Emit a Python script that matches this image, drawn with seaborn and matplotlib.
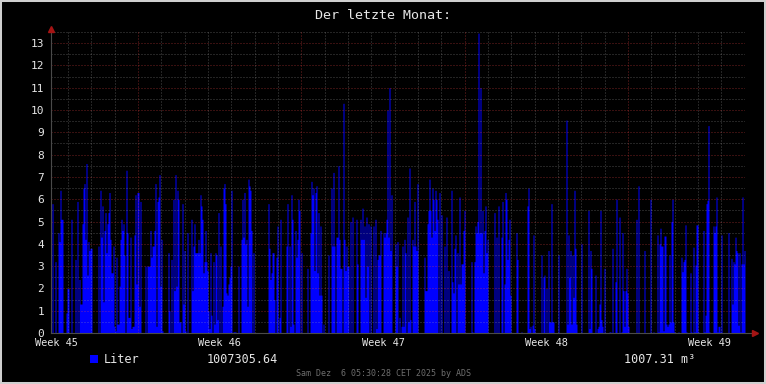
import numpy as np
import pandas as pd
import matplotlib
matplotlib.use("Agg")
import matplotlib.pyplot as plt
import matplotlib.transforms as mtransforms
from matplotlib.patches import Rectangle
import seaborn as sns

# ---------------- data ----------------
title = "Der letzte Monat:"
week_labels = ["Week 45", "Week 46", "Week 47", "Week 48", "Week 49"]
legend_label = "Liter"
total_liter = "1007305.64"
total_m3 = "1007.31 m\u00b3"
footer = "Sam Dez  6 05:30:28 CET 2025 by ADS"
y_tick_values = list(range(0, 14))

liters_part1 = [
    0, 5.8, 0, 0, 3.2, 0, 0, 4.5, 4.1, 6.4,
    5.1, 5.1, 0, 0, 0, 0.9, 2.0, 2.0, 0, 0,
    5.1, 0, 0, 0, 3.3, 0, 5.9, 0, 2.4, 1.3,
    1.3, 4.9, 6.5, 6.7, 4.2, 7.6, 2.6, 4.1, 3.7, 3.8,
    3.8, 0, 0, 0, 0, 0, 0, 3.9, 0, 6.4,
    4.3, 5.7, 1.4, 4.6, 5.4, 3.6, 4.9, 5.4, 6.3, 4.2,
    2.7, 2.7, 3.9, 0.3, 0.1, 3.4, 0.4, 0.4, 2.1, 4.2,
    5.1, 4.6, 4.9, 3.5, 0, 7.3, 4.5, 0.7, 0.7, 4.3,
    0.2, 0.3, 0.3, 4.4, 6.2, 2.2, 6.3, 6.3, 1.2, 5.9,
    0, 0, 0, 0, 3.0, 0, 3.0,
]
liters_part2 = [
    3.0, 3.0, 4.6, 3.4, 3.9, 3.9, 4.6, 6.7, 0.3, 5.9,
    6.1, 7.1, 2.1, 4.2, 0.1, 0, 0, 0, 0, 0,
    3.6, 1.0, 0, 3.3, 0, 6.0, 1.9, 7.1, 2.1, 6.4,
    6.0, 0.5, 0.5, 0, 5.8, 1.3, 3.7, 0.1, 0, 4.5,
    0, 0, 0, 5.1, 1.9, 3.9, 4.9, 3.6, 3.6, 3.6,
    4.2, 3.6, 6.2, 5.7, 5.1, 2.7, 3.2, 4.6, 3.2, 2.8,
    1.0, 0.2, 3.6, 0.8, 0, 3.2, 0.4, 3.6, 3.5, 0.6,
    5.4, 0, 3.9, 0, 1.2, 6.5, 6.7, 5.8, 1.8, 1.7,
    2.2, 2.5, 3.0, 6.4, 0, 0.05, 0.05, 0.05, 0, 0,
    3.0, 0, 0, 4.2, 6.0, 4.3, 6.3, 4.0, 4.2, 1.2,
]
liters_part3 = [
    6.9, 6.6, 6.4, 4.6, 0, 3.6, 0, 0, 0, 0,
    0, 0, 0, 0, 0, 0, 0, 0, 0, 0,
    5.8, 3.8, 2.4, 2.7, 3.6, 3.6, 1.5, 0, 3.4, 4.8,
    0, 0.7, 5.1, 0, 0, 0, 0, 0, 3.9, 5.8,
    0, 3.9, 0.3, 6.2, 5.1, 0.4, 0, 4.6, 3.4, 4.2,
    6.0, 5.5, 0, 3.6, 0, 0, 0, 0, 0, 2.9,
    0, 0, 4.5, 6.8, 6.2, 6.5, 2.8, 6.3, 6.6, 2.7,
    5.4, 1.7, 4.8, 1.7, 0, 0.4, 0, 0, 0, 0,
    3.5, 0, 0, 6.5, 3.9, 7.2, 3.9, 0, 4.3, 4.3,
    7.5, 4.2, 2.9, 2.9, 0, 10.3, 4.2, 2.8, 3.9, 3.0,
]
liters_part4 = [
    3.0, 0, 5.0, 0, 5.2, 0, 0, 0, 5.1, 3.1,
    0, 0, 5.1, 4.2, 5.6, 4.2, 4.8, 1.6, 5.2, 3.0,
    4.9, 0, 4.8, 0, 0, 4.8, 0, 5.1, 0.2, 3.3,
    3.5, 3.5, 4.6, 0, 0, 4.5, 4.3, 4.5, 5.1, 10.0,
    4.3, 11.0, 3.7, 6.2, 0, 0, 0, 4.0, 3.0, 4.1,
    0, 0.7, 0, 0.3, 3.9, 0.3, 4.2, 3.6, 0, 5.2,
    0.5, 7.4, 0.6, 0, 4.2, 3.9, 5.9, 3.9, 3.7, 6.7,
    0, 0, 0, 0, 0, 0, 3.4, 1.9, 1.9, 4.9,
    5.5, 6.9, 5.5, 4.3, 6.5, 6.0, 4.6, 6.4, 6.0, 5.1,
    0, 6.3, 0, 5.3, 0, 0, 3.9, 0, 5.2, 0,
]
liters_part5 = [
    2.8, 0, 0, 6.4, 2.3, 1.8, 3.8, 4.4, 0, 3.6,
    2.2, 6.1, 2.2, 3.1, 3.1, 4.6, 5.5, 0, 0, 0,
    0, 0, 0, 3.2, 0.05, 0, 3.2, 4.8, 4.5, 5.0,
    13.45, 4.5, 11.0, 4.5, 5.5, 2.7, 4.6, 5.7, 3.6, 4.2,
    0, 0, 0, 0, 0, 0, 5.4, 0, 4.3, 0,
    5.7, 0, 0, 4.3, 5.9, 0, 2.2, 6.3, 6.0, 3.3,
    4.2, 5.1, 1.7, 0, 0, 0, 0, 0, 4.5, 3.3,
    0, 0, 0, 0.05, 0, 0, 0, 0, 0, 5.7,
    6.5, 0.2, 0.3, 0, 0.35, 4.4, 0.2, 0, 0, 0,
    0, 0, 0, 3.5, 0, 2.5, 2.6, 0, 2.0, 0,
]
liters_part6 = [
    3.7, 0.5, 0.5, 5.8, 0.5, 0.5, 0, 0, 0, 0,
    3.5, 0, 0, 0, 0, 0, 0, 0, 9.55, 0.4,
    4.4, 2.5, 3.7, 0.4, 3.5, 1.6, 6.4, 3.8, 0.4, 0,
    0, 0, 0, 4.0, 0, 0, 0, 0, 0, 0,
    5.5, 0.2, 3.7, 2.9, 0, 0, 0, 2.6, 0, 0.2,
    0.3, 1.3, 5.5, 0.6, 0.3, 0, 2.9, 0, 0, 0,
    0, 0.05, 0.05, 0, 3.8, 0, 0, 2.3, 6.0, 0,
    0, 5.2, 0, 0.05, 4.5, 1.9, 0.3, 1.9, 2.9, 1.8,
    0.3, 0, 0, 0, 0, 0, 0, 0, 5.1, 0,
    6.6, 0, 0, 0, 0, 0, 3.7, 0, 0, 0,
]
liters_part7 = [
    0, 0, 6.0, 0, 0, 0.05, 0, 0, 0, 4.4,
    0.05, 4.0, 4.7, 3.9, 3.9, 0.1, 4.35, 4.35, 0.4, 0.3,
    0.4, 3.5, 0.5, 5.0, 6.0, 0.5, 0.05, 0, 0, 0,
    0.05, 0, 0, 3.4, 2.75, 3.2, 3.3, 4.85, 0.05, 0,
    0, 0, 2.7, 0.05, 0, 3.85, 0.05, 3.05, 4.85, 4.85,
    0.05, 0, 0, 0, 0, 4.6, 0.05, 0.8, 5.8, 5.95,
    9.3, 0.05, 0, 0, 0, 4.8, 4.5, 4.8, 6.1, 0.05,
    0.3, 0.3, 0.05, 4.4, 0, 0, 0, 0, 0, 0,
    4.5, 0, 0, 3.35, 1.3, 3.2, 3.1, 4.3, 3.7, 3.6,
    0.35, 3.6, 0.05, 3.1, 6.1, 3.1, 3.7,
]

liters = np.array(liters_part1 + liters_part2 + liters_part3 + liters_part4
                  + liters_part5 + liters_part6 + liters_part7, dtype=float)

# time axis (days since left edge of graph)
SPAN_DAYS = 29.75
n = len(liters)
dt = SPAN_DAYS / n
times = (np.arange(n) + 0.5) * dt
df = pd.DataFrame({"day": times, "liter": liters})

FIRST_DAY_LINE = 0.73
FIRST_WEEK_LINE = 3.73
FIRST_WEEK_LABEL = 0.23

# ---------------- style ----------------
sns.set_style("dark", {"axes.facecolor": "black", "figure.facecolor": "black"})
plt.rcParams["font.family"] = ["DejaVu Sans Mono", "DejaVu Sans"]

W, H = 766, 384
BG = "#000000"
TXT = "#e6e6e6"
MAJ = (1.0, 0.28, 0.28, 0.45)
MIN = (0.68, 0.68, 0.68, 0.42)
MAJ_TICK = "#7a2c2c"
MIN_TICK = "#4e4e4e"
AXC = "#4a4a4a"
ARROW = "#a51414"
BLUE = "#0000ff"
dots = (0, (1, 2))

fig = plt.figure(figsize=(W / 100, H / 100), dpi=100, facecolor=BG)
fig.patches.append(Rectangle((0, 0), 1, 1, transform=fig.transFigure, fill=False,
                             edgecolor="#cfcfcf", linewidth=2.9, zorder=10))

ax = fig.add_axes([51 / W, (H - 333) / H, 694 / W, 303 / H], facecolor=BG)

sns.histplot(data=df, x="day", weights="liter", binwidth=dt, binrange=(0, SPAN_DAYS),
             element="step", fill=True, color=BLUE, alpha=1.0, linewidth=0, ax=ax)
ax.set_xlabel("")
ax.set_ylabel("")
ax.set_xlim(0, SPAN_DAYS)
ax.set_ylim(0, 303 / 22.3)

# y grid
ax.set_yticks(y_tick_values)
ax.set_yticklabels([str(v) for v in y_tick_values])
ax.set_yticks(np.arange(0.5, 13.6, 1.0), minor=True)
ax.grid(False)
ax.set_axisbelow(False)
for v in y_tick_values[1:]:
    ax.axhline(v, color=MAJ, lw=0.72, ls=dots, zorder=3)
for v in np.arange(0.5, 13.6, 1.0):
    ax.axhline(v, color=MIN, lw=0.72, ls=dots, zorder=3)

# x grid: day lines + week lines
day_lines = FIRST_DAY_LINE + np.arange(0, 29)
day_lines = day_lines[day_lines < SPAN_DAYS]
week_lines = FIRST_WEEK_LINE + 7 * np.arange(0, 4)
for d in day_lines:
    if np.min(np.abs(week_lines - d)) < 1e-6:
        continue
    ax.axvline(d, color=MIN, lw=0.72, ls=dots, zorder=3)
for d in week_lines:
    ax.axvline(d, color=MAJ, lw=0.72, ls=dots, zorder=3)

ax.set_xticks([])
ax.set_xticks(day_lines, minor=True)
ax.tick_params(axis="x", which="minor", length=1.5, width=0.72, color=MIN_TICK, labelbottom=False)
for tk, d in zip(ax.xaxis.get_minor_ticks(), day_lines):
    if np.min(np.abs(week_lines - d)) < 1e-6:
        tk.tick1line.set_color(MAJ_TICK)
ax.tick_params(axis="y", which="major", length=1.8, width=0.72, color=MAJ_TICK,
               labelsize=8, labelcolor=TXT, pad=3)
ax.tick_params(axis="y", which="minor", length=1.8, width=0.72, color=MIN_TICK)

for side in ["top", "right"]:
    ax.spines[side].set_visible(False)
for side in ["left", "bottom"]:
    ax.spines[side].set_color(AXC)
    ax.spines[side].set_linewidth(0.8)
    ax.spines[side].set_zorder(4)

# week labels
blend = mtransforms.blended_transform_factory(ax.transData, fig.transFigure)
for k, lab in enumerate(week_labels):
    ax.text(FIRST_WEEK_LABEL + 7 * k, 1 - 345.5 / H, lab, transform=blend,
            ha="center", va="baseline", fontsize=7.4, color=TXT, clip_on=False)

# axis extension + arrows
ax.plot([1, 1.012], [0, 0], transform=ax.transAxes, color=AXC, lw=0.8, clip_on=False, zorder=4)
ax.plot([1.0145], [0], transform=ax.transAxes, marker=">", ms=4.5, color=ARROW,
        mec=ARROW, clip_on=False, zorder=5)
ax.plot([0], [1.004], transform=ax.transAxes, marker="^", ms=4.5, color=ARROW,
        mec=ARROW, clip_on=False, zorder=5)

# title
fig.text(383 / W, 1 - 19 / H, title, ha="center", va="baseline", fontsize=9.6, color=TXT)

# legend
fig.patches.append(Rectangle((90 / W, 1 - 363 / H), 8 / W, 8 / H, transform=fig.transFigure,
                             facecolor=BLUE, edgecolor="none"))
fig.text(104 / W, 1 - 363 / H, legend_label, ha="left", va="baseline", fontsize=8.5, color=TXT)
fig.text(207 / W, 1 - 363 / H, total_liter, ha="left", va="baseline", fontsize=8.5, color=TXT)
fig.text(624 / W, 1 - 363 / H, total_m3, ha="left", va="baseline", fontsize=8.5, color=TXT)

# footer
fig.text(384 / W, 1 - 376 / H, footer, ha="center", va="baseline", fontsize=6, color="#6e6e6e")

fig.savefig("out.png", dpi=100, facecolor=BG)
